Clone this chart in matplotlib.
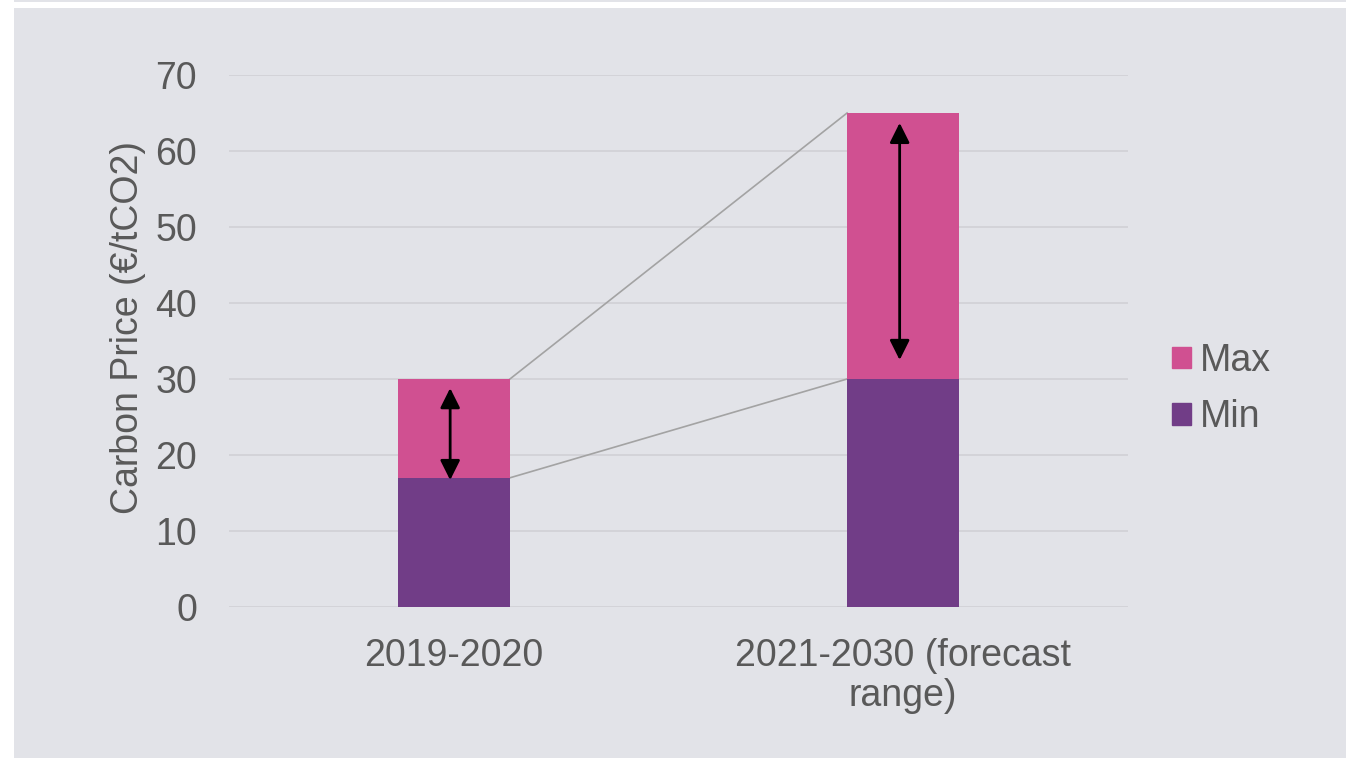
import matplotlib
matplotlib.use("Agg")
import matplotlib.pyplot as plt
from matplotlib.patches import Rectangle, Patch

# data
categories = ["2019-2020", "2021-2030 (forecast\nrange)"]
min_vals = [17, 30]
max_extra = [13, 35]
arrow_low = [16.7, 32.5]
arrow_high = [28.8, 63.7]

plt.rcParams['font.family'] = ['Liberation Sans', 'DejaVu Sans']
text_col = "#595959"
bg_col = "#E2E3E8"
min_col = "#713D87"
max_col = "#D05091"

W, H = 1346, 758
fig = plt.figure(figsize=(W / 100, H / 100), dpi=100, facecolor="white")

# gray panel behind the chart
fig.patches.append(Rectangle((14 / W, 0), 1, 1 - 8 / H, transform=fig.transFigure,
                             facecolor=bg_col, edgecolor="none", zorder=-10))
fig.patches.append(Rectangle((14 / W, 1 - 2 / H), 1, 2 / H, transform=fig.transFigure,
                             facecolor=bg_col, edgecolor="none", zorder=-10))

ax = fig.add_axes([229 / W, 1 - 607 / H, (1128 - 229) / W, (607 - 75) / H])
ax.set_facecolor("none")

x = range(len(categories))
bw = 0.25
ax.bar(x, min_vals, width=bw, color=min_col, zorder=3)
totals = [a + b for a, b in zip(min_vals, max_extra)]
ax.bar(x, max_extra, bottom=min_vals, width=bw, color=max_col, zorder=3)

# connector lines between bars
ax.plot([0 + bw / 2, 1 - bw / 2], [totals[0], totals[1]], color="#A3A3A3", lw=1.2, zorder=2)
ax.plot([0 + bw / 2, 1 - bw / 2], [min_vals[0], min_vals[1]], color="#A3A3A3", lw=1.2, zorder=2)

# range arrows
for i in x:
    ax.annotate("", xy=(i - 0.008, arrow_high[i]), xytext=(i - 0.008, arrow_low[i]),
                arrowprops=dict(arrowstyle="<|-|>", color="black", lw=2,
                                mutation_scale=30, shrinkA=0, shrinkB=0),
                zorder=5)

ax.set_xlim(-0.5, 1.5)
ax.set_ylim(0, 70)
ax.set_yticks(range(0, 71, 10))
ax.set_xticks(list(x))
ax.set_xticklabels(categories)
ax.grid(axis="y", color="#D0D0D5", lw=1.2, zorder=0)
for s in ax.spines.values():
    s.set_visible(False)
ax.tick_params(axis="both", length=0, labelsize=27, labelcolor=text_col)
ax.tick_params(axis="y", pad=23)
ax.tick_params(axis="x", pad=22)
for t in ax.get_xticklabels():
    t.set_linespacing(1.15)

fig.text(128 / W, 1 - 328 / H, "Carbon Price (€/tCO2)", rotation=90, ha="center", va="center",
         fontsize=27, color=text_col)

handles = [Patch(color=max_col, label="Max"), Patch(color=min_col, label="Min")]
fig.legend(handles=handles, loc="center left", bbox_to_anchor=(1172 / W, 1 - 389 / H),
           frameon=False, fontsize=27, labelcolor=text_col, handlelength=0.5,
           handleheight=0.5, handletextpad=0.25, labelspacing=0.55, borderaxespad=0,
           borderpad=0)

plt.savefig("out.png", dpi=100, facecolor=fig.get_facecolor())
